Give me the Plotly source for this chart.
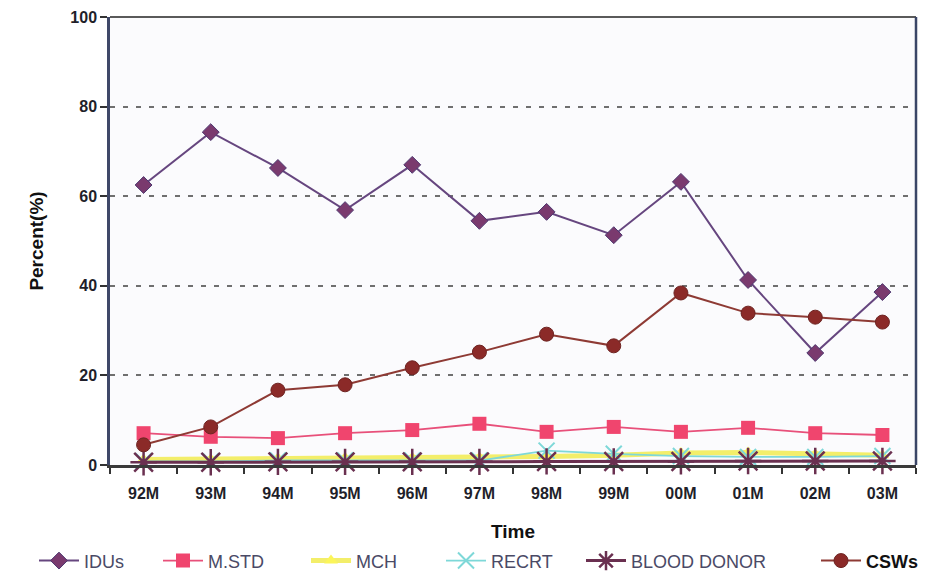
import plotly.graph_objects as go

# Survey periods
periods = ["92M", "93M", "94M", "95M", "96M", "97M", "98M", "99M", "00M", "01M", "02M", "03M"]

# Prevalence by group (%)
idus = [62.5, 74.3, 66.3, 56.9, 67.0, 54.5, 56.5, 51.3, 63.2, 41.3, 25.0, 38.6]
m_std = [7.1, 6.3, 6.0, 7.1, 7.8, 9.2, 7.4, 8.5, 7.4, 8.3, 7.1, 6.7]
mch = [1.2, 1.3, 1.5, 1.6, 1.6, 1.7, 1.9, 2.2, 2.7, 2.8, 2.4, 2.2]
recrt = [0.8, 0.8, 1.0, 1.0, 1.0, 1.0, 3.2, 2.5, 2.0, 1.8, 1.8, 2.0]
blood_donor = [0.6, 0.6, 0.7, 0.7, 0.7, 0.7, 0.8, 0.8, 0.8, 0.9, 0.9, 0.9]
csws = [4.5, 8.5, 16.7, 17.9, 21.7, 25.2, 29.2, 26.6, 38.4, 33.9, 33.0, 31.9]

W, H = 941, 577

fig = go.Figure()

fig.add_trace(go.Scatter(
    x=periods, y=idus, name="IDUs", mode="lines+markers", legend="legend",
    line=dict(color="#66467f", width=2),
    marker=dict(symbol="diamond", size=13, color="#7a3a6e", line=dict(color="#4e3870", width=1)),
    cliponaxis=False))
fig.add_trace(go.Scatter(
    x=periods, y=m_std, name="M.STD", mode="lines+markers", legend="legend2",
    line=dict(color="#e8507a", width=1.8),
    marker=dict(symbol="square", size=14, color="#f0456e"),
    cliponaxis=False))
fig.add_trace(go.Scatter(
    x=periods, y=mch, name="MCH", mode="lines+markers", legend="legend3",
    line=dict(color="#f3ee6a", width=5),
    marker=dict(symbol="triangle-up", size=12, color="#fbf55a"),
    cliponaxis=False))
fig.add_trace(go.Scatter(
    x=periods, y=recrt, name="RECRT", mode="lines+markers", legend="legend4",
    line=dict(color="#7ed8d8", width=1.8),
    marker=dict(symbol="x-thin-open", size=16, line=dict(color="#6fd0d6", width=2)),
    cliponaxis=False))
fig.add_trace(go.Scatter(
    x=periods, y=blood_donor, name="BLOOD DONOR", mode="lines+markers", legend="legend5",
    line=dict(color="#6a3050", width=3),
    marker=dict(symbol="asterisk-open", size=22, line=dict(color="#8a2a5a", width=2.5)),
    cliponaxis=False))
fig.add_trace(go.Scatter(
    x=periods, y=csws, name="<b>CSWs</b>", mode="lines+markers", legend="legend6",
    line=dict(color="#8e3a34", width=2),
    marker=dict(symbol="circle", size=14, color="#8b2a28", line=dict(color="#6e2422", width=1)),
    cliponaxis=False))


def legend_at(px, color="#4a4a66"):
    # one legend entry placed at a fixed pixel offset along the bottom row
    return dict(
        orientation="h", xref="container", x=px / W, xanchor="left",
        yref="container", y=0.06, yanchor="top",
        font=dict(size=18, color=color),
        itemwidth=40, bgcolor="rgba(0,0,0,0)")


fig.update_layout(
    width=W, height=H,
    margin=dict(l=110, r=25, t=17, b=112, autoexpand=False),
    paper_bgcolor="white",
    plot_bgcolor="#fbfbfd",
    font=dict(family="Liberation Sans, Arial, sans-serif", color="#222"),
    showlegend=True,
    legend=legend_at(34),
    legend2=legend_at(158),
    legend3=legend_at(306),
    legend4=legend_at(441),
    legend5=legend_at(581),
    legend6=legend_at(816, "#111"),
    xaxis=dict(
        type="category", range=[-0.5, 11.5],
        tickson="boundaries", ticks="outside", ticklen=6, tickwidth=2, tickcolor="#333",
        ticklabelstandoff=12,
        showgrid=False, showline=True, linecolor="#3a3a3a", linewidth=3,
        tickfont=dict(size=16, color="#1f1f2a", family="Liberation Sans, Arial"),
        title=dict(text="<b>Time</b>", font=dict(size=19, color="#111"), standoff=47)),
    yaxis=dict(
        range=[0, 100], dtick=20, ticks="outside", ticklen=7, tickwidth=2, tickcolor="#333",
        showline=True, linecolor="#3f4868", linewidth=2.5,
        showgrid=True, gridcolor="#6f6f6f", gridwidth=1.6, griddash="5px,8px",
        zeroline=False,
        tickfont=dict(size=16, color="#1f1f2a"),
        title=dict(text="<b>Percent(%)</b>", font=dict(size=19, color="#111"), standoff=22)),
)
fig.update_xaxes(tickprefix="<b>", ticksuffix="</b>")
fig.update_yaxes(tickprefix="<b>", ticksuffix="</b>")

# Top and right frame of the plotting area
fig.add_shape(type="line", xref="paper", yref="paper", x0=0, x1=1, y0=1, y1=1,
              line=dict(color="#5a5a5a", width=2))
fig.add_shape(type="line", xref="paper", yref="paper", x0=1, x1=1, y0=0, y1=1,
              line=dict(color="#3a4566", width=2.5))

fig.write_html("out.html")
